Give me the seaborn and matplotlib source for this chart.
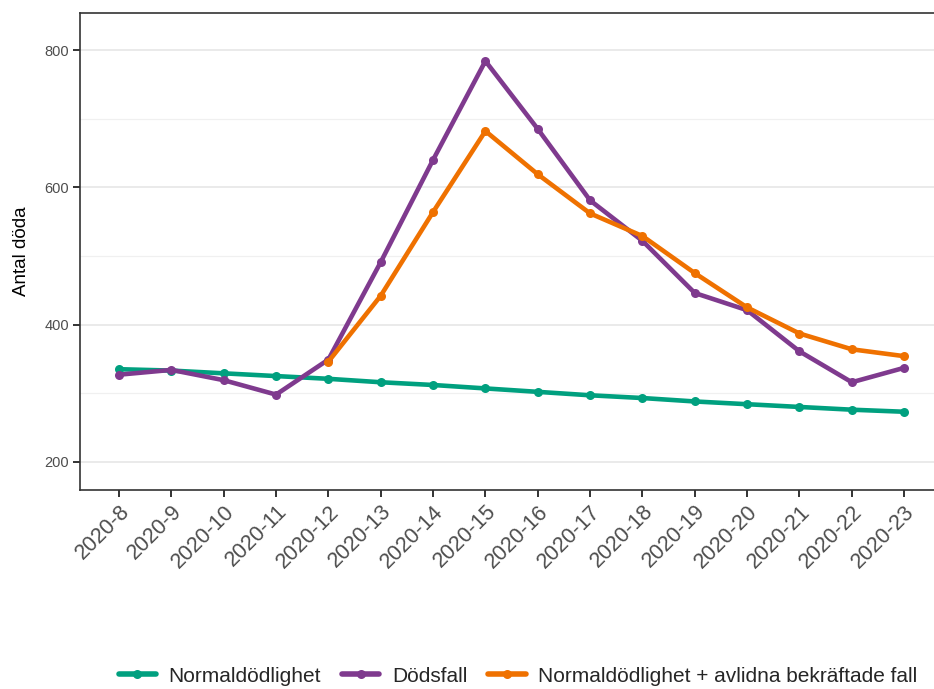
import pandas as pd
import matplotlib.pyplot as plt
import seaborn as sns
from matplotlib.ticker import MultipleLocator

weeks = ['2020-8', '2020-9', '2020-10', '2020-11', '2020-12', '2020-13', '2020-14', '2020-15',
         '2020-16', '2020-17', '2020-18', '2020-19', '2020-20', '2020-21', '2020-22', '2020-23']
normal = [335, 333, 329, 325, 321, 316, 312, 307, 302, 297, 293, 288, 284, 280, 276, 273]
deaths = [327, 334, 319, 298, 349, 491, 640, 784, 685, 581, 522, 446, 421, 361, 316, 337]
normal_plus = [None, None, None, None, 346, 442, 564, 682, 619, 562, 529, 475, 425, 387, 364, 354]

labels = ['Normaldödlighet', 'Dödsfall', 'Normaldödlighet + avlidna bekräftade fall']
colors = ['#00A07F', '#7F3A8E', '#EF7100']

rows = []
for name, vals in zip(labels, [normal, deaths, normal_plus]):
    for i, (w, v) in enumerate(zip(weeks, vals)):
        if v is not None:
            rows.append({'pos': i, 'week': w, 'serie': name, 'value': v})
df = pd.DataFrame(rows)

sns.set_style('white')
plt.rcParams['font.family'] = ['Arial', 'Liberation Sans', 'DejaVu Sans']

fig = plt.figure(figsize=(9.34, 6.89), dpi=100)
ax = fig.add_axes([80 / 934, 1 - 490 / 689, 1 - 80 / 934, 477 / 689])

sns.lineplot(data=df, x='pos', y='value', hue='serie', hue_order=labels,
             palette=colors, marker='o', markersize=6.5, markeredgewidth=0,
             linewidth=3.3, ax=ax)

ax.set_xlim(-0.745, 15.57)
ax.set_ylim(159, 854)
ax.set_xticks(range(len(weeks)))
ax.set_xticklabels(weeks, rotation=45, ha='right', rotation_mode='anchor',
                   fontsize=15.5, color='#4d4d4d')
ax.yaxis.set_major_locator(MultipleLocator(200))
ax.yaxis.set_minor_locator(MultipleLocator(100))
ax.tick_params(axis='y', labelsize=10.5, labelcolor='#4d4d4d')
ax.tick_params(axis='both', which='major', direction='out', length=5, width=1.4,
               color='#333333', left=True, bottom=True, pad=3)
ax.tick_params(axis='y', which='minor', left=False)
ax.grid(axis='y', which='major', color='#e8e8e8', linewidth=1.3)
ax.grid(axis='y', which='minor', color='#f0f0f0', linewidth=0.9)
ax.set_axisbelow(True)
for s in ax.spines.values():
    s.set_color('#333333')
    s.set_linewidth(1.2)
ax.spines['right'].set_visible(False)

ax.set_xlabel('')
ax.set_ylabel('Antal döda', fontsize=13.5, color='black', labelpad=10)

ax.legend_.remove()
handles, lbls = ax.get_legend_handles_labels()
for h in handles:
    h.set_linewidth(4)
fig.legend(handles, lbls, loc='center', bbox_to_anchor=(0.5546, 1 - 676 / 689),
           ncol=3, frameon=False, fontsize=15, handlelength=1.8,
           columnspacing=1.0, handletextpad=0.6)

fig.savefig('out.png', dpi=100)
